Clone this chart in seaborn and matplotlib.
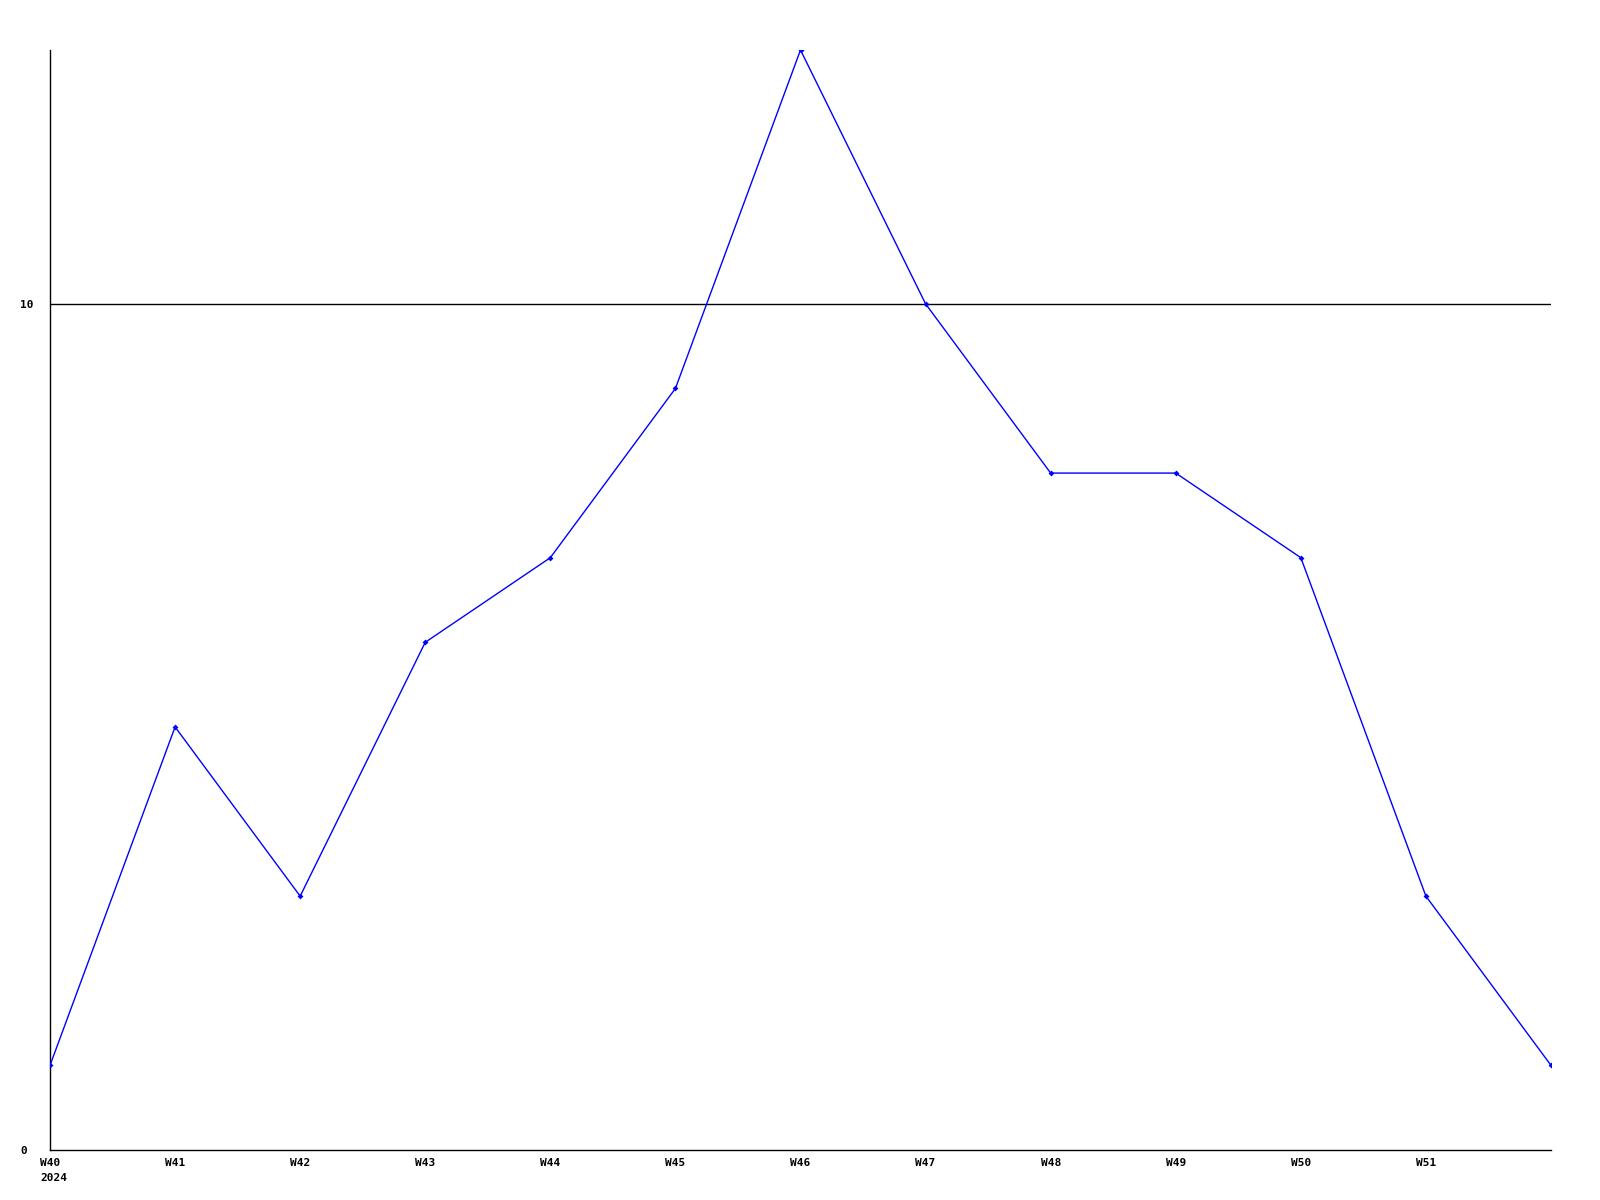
import matplotlib
matplotlib.use("Agg")
import matplotlib.pyplot as plt
import seaborn as sns
import pandas as pd

weeks = ["W40", "W41", "W42", "W43", "W44", "W45", "W46",
         "W47", "W48", "W49", "W50", "W51", ""]
values = [1, 5, 3, 6, 7, 9, 13, 10, 8, 8, 7, 3, 1]
year_label = "2024"
y_ticks = [0, 10]

df = pd.DataFrame({"pos": range(len(values)), "value": values})

sns.set_style("white")
plt.rcParams["font.family"] = ["DejaVu Sans Mono"]
plt.rcParams["text.color"] = "black"
plt.rcParams["xtick.color"] = "black"
plt.rcParams["ytick.color"] = "black"

fig = plt.figure(figsize=(16, 12), dpi=100)
ax = fig.add_axes([50 / 1600, 50 / 1200, 1501 / 1600, 1100 / 1200])

ax.axhline(10, color="black", lw=1, zorder=1)
sns.lineplot(data=df, x="pos", y="value", ax=ax, color="#0000ff", lw=1,
             marker="D", markersize=3, markeredgewidth=0, zorder=3)

ax.set_xlim(0, len(values) - 1)
ax.set_ylim(0, 13)
ax.set_xticks(range(len(weeks)))
ax.set_xticklabels(weeks, fontsize=8, fontweight="bold", color="black")
ax.set_yticks(y_ticks)
ax.set_yticklabels([str(t) for t in y_ticks], fontsize=8, fontweight="bold",
                   color="black", ha="left")
ax.tick_params(axis="x", length=0, pad=6)
ax.tick_params(axis="y", length=0, pad=21.6)
ax.set_xlabel("")
ax.set_ylabel("")

for s in ["top", "right"]:
    ax.spines[s].set_visible(False)
for s in ["left", "bottom"]:
    ax.spines[s].set_color("black")
    ax.spines[s].set_linewidth(1)

ax.annotate(year_label, xy=(0, 0), xycoords=("data", "axes fraction"),
            xytext=(-10, -33), textcoords="offset pixels",
            ha="left", va="bottom", fontsize=8, fontweight="bold",
            color="black", annotation_clip=False)

fig.savefig("out.png", dpi=100)
